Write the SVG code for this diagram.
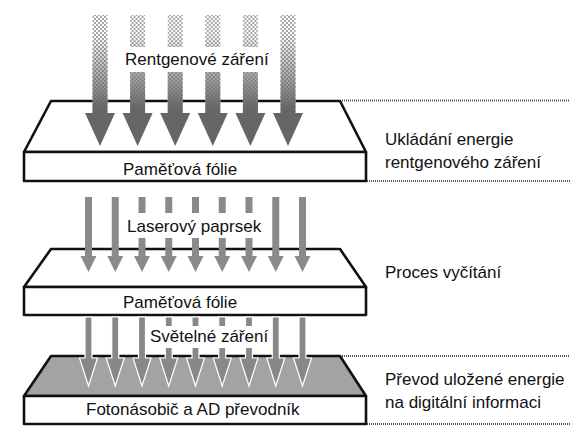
<svg xmlns="http://www.w3.org/2000/svg" width="586" height="441" viewBox="0 0 586 441">
<style>
.plate{stroke:#111;stroke-width:2.6;stroke-linejoin:round}
.face{fill:#fff}
.gface{fill:#a3a3a3}
.front{fill:#fff}
.t{font-family:"Liberation Sans",Arial,sans-serif;font-size:17px;fill:#111}
.guide{stroke:#555;stroke-width:2;stroke-dasharray:1 1;fill:none}
.laser{fill:#8a8a8a}
.light{fill:#888;stroke:#fff;stroke-width:1.2}
.xhead{fill:#666}
.box{fill:#fff}
</style>
<defs>
<pattern id="dots" width="4" height="4" patternUnits="userSpaceOnUse">
<rect width="4" height="4" fill="#fff"/>
<rect width="2" height="2" fill="#a8a8a8"/>
<rect x="2" y="2" width="2" height="2" fill="#a8a8a8"/>
</pattern>
<linearGradient id="xgrad" gradientUnits="userSpaceOnUse" x1="0" y1="35" x2="0" y2="108">
<stop offset="0" stop-color="#666" stop-opacity="0"/>
<stop offset="0.55" stop-color="#6a6a6a" stop-opacity="0.55"/>
<stop offset="1" stop-color="#666" stop-opacity="1"/>
</linearGradient>
</defs>
<rect width="586" height="441" fill="#fff"/>

<g id="guides">
<line class="guide" x1="342" y1="100.5" x2="570" y2="100.5"/>
<line class="guide" x1="367" y1="181" x2="570" y2="181"/>
<line class="guide" x1="342" y1="356" x2="570" y2="356"/>
<line class="guide" x1="367" y1="424" x2="570" y2="424"/>
</g>

<g id="plate1">
<polygon class="plate face" points="51,101 340,101 366,152 24,152"/>
<rect class="plate front" x="24" y="152" width="342" height="29"/>
<text class="t" x="123" y="175">Paměťová fólie</text>
</g>

<g id="plate2">
<polygon class="plate face" points="51,249 340,249 366,287 24,287"/>
<rect class="plate front" x="24" y="287" width="342" height="28"/>
<text class="t" x="123" y="308">Paměťová fólie</text>
</g>

<g id="plate3">
<polygon class="plate gface" points="51,356 340,356 366,396 24,396"/>
<rect class="plate front" x="24" y="396" width="342" height="28"/>
<text class="t" x="86" y="415">Fotonásobič a AD převodník</text>
</g>

<g id="connectors">
<g id="xray">
<g transform="translate(100,0)"><rect x="-7.5" y="15" width="15" height="99" fill="url(#dots)"/><rect x="-7.5" y="15" width="15" height="99" fill="url(#xgrad)"/><polygon class="xhead" points="-15,113 15,113 0,146"/></g>
<g transform="translate(137.6,0)"><rect x="-7.5" y="15" width="15" height="99" fill="url(#dots)"/><rect x="-7.5" y="15" width="15" height="99" fill="url(#xgrad)"/><polygon class="xhead" points="-15,113 15,113 0,146"/></g>
<g transform="translate(175.2,0)"><rect x="-7.5" y="15" width="15" height="99" fill="url(#dots)"/><rect x="-7.5" y="15" width="15" height="99" fill="url(#xgrad)"/><polygon class="xhead" points="-15,113 15,113 0,146"/></g>
<g transform="translate(212.8,0)"><rect x="-7.5" y="15" width="15" height="99" fill="url(#dots)"/><rect x="-7.5" y="15" width="15" height="99" fill="url(#xgrad)"/><polygon class="xhead" points="-15,113 15,113 0,146"/></g>
<g transform="translate(250.4,0)"><rect x="-7.5" y="15" width="15" height="99" fill="url(#dots)"/><rect x="-7.5" y="15" width="15" height="99" fill="url(#xgrad)"/><polygon class="xhead" points="-15,113 15,113 0,146"/></g>
<g transform="translate(288,0)"><rect x="-7.5" y="15" width="15" height="99" fill="url(#dots)"/><rect x="-7.5" y="15" width="15" height="99" fill="url(#xgrad)"/><polygon class="xhead" points="-15,113 15,113 0,146"/></g>
</g>
<g id="laser">
<polygon class="laser" transform="translate(88.5,0)" points="-3.5,197 3.5,197 3.5,256 8,256 0,272 -8,256 -3.5,256"/>
<polygon class="laser" transform="translate(115.25,0)" points="-3.5,197 3.5,197 3.5,256 8,256 0,272 -8,256 -3.5,256"/>
<polygon class="laser" transform="translate(142,0)" points="-3.5,197 3.5,197 3.5,256 8,256 0,272 -8,256 -3.5,256"/>
<polygon class="laser" transform="translate(168.75,0)" points="-3.5,197 3.5,197 3.5,256 8,256 0,272 -8,256 -3.5,256"/>
<polygon class="laser" transform="translate(195.5,0)" points="-3.5,197 3.5,197 3.5,256 8,256 0,272 -8,256 -3.5,256"/>
<polygon class="laser" transform="translate(222.25,0)" points="-3.5,197 3.5,197 3.5,256 8,256 0,272 -8,256 -3.5,256"/>
<polygon class="laser" transform="translate(249,0)" points="-3.5,197 3.5,197 3.5,256 8,256 0,272 -8,256 -3.5,256"/>
<polygon class="laser" transform="translate(275.75,0)" points="-3.5,197 3.5,197 3.5,256 8,256 0,272 -8,256 -3.5,256"/>
<polygon class="laser" transform="translate(302.5,0)" points="-3.5,197 3.5,197 3.5,256 8,256 0,272 -8,256 -3.5,256"/>
</g>
<g id="light">
<polygon class="light" transform="translate(88.5,0)" points="-3.5,317 3.5,317 3.5,358 9,358 0,386 -9,358 -3.5,358"/>
<polygon class="light" transform="translate(115.25,0)" points="-3.5,317 3.5,317 3.5,358 9,358 0,386 -9,358 -3.5,358"/>
<polygon class="light" transform="translate(142,0)" points="-3.5,317 3.5,317 3.5,358 9,358 0,386 -9,358 -3.5,358"/>
<polygon class="light" transform="translate(168.75,0)" points="-3.5,317 3.5,317 3.5,358 9,358 0,386 -9,358 -3.5,358"/>
<polygon class="light" transform="translate(195.5,0)" points="-3.5,317 3.5,317 3.5,358 9,358 0,386 -9,358 -3.5,358"/>
<polygon class="light" transform="translate(222.25,0)" points="-3.5,317 3.5,317 3.5,358 9,358 0,386 -9,358 -3.5,358"/>
<polygon class="light" transform="translate(249,0)" points="-3.5,317 3.5,317 3.5,358 9,358 0,386 -9,358 -3.5,358"/>
<polygon class="light" transform="translate(275.75,0)" points="-3.5,317 3.5,317 3.5,358 9,358 0,386 -9,358 -3.5,358"/>
<polygon class="light" transform="translate(302.5,0)" points="-3.5,317 3.5,317 3.5,358 9,358 0,386 -9,358 -3.5,358"/>
</g>
</g>

<g id="beam-labels">
<rect class="box" x="121" y="47" width="150" height="25"/>
<text class="t" x="125" y="65">Rentgenové záření</text>
<rect class="box" x="124" y="213" width="140" height="25"/>
<text class="t" x="127" y="232">Laserový paprsek</text>
<rect class="box" x="147" y="326" width="121" height="22"/>
<text class="t" x="150" y="342">Světelné záření</text>
</g>

<g id="stage-labels">
<text class="t" x="385" y="145">Ukládání energie</text>
<text class="t" x="385" y="168">rentgenového záření</text>
<text class="t" x="385" y="278">Proces vyčítání</text>
<text class="t" x="385" y="385">Převod uložené energie</text>
<text class="t" x="385" y="408">na digitální informaci</text>
</g>
</svg>
